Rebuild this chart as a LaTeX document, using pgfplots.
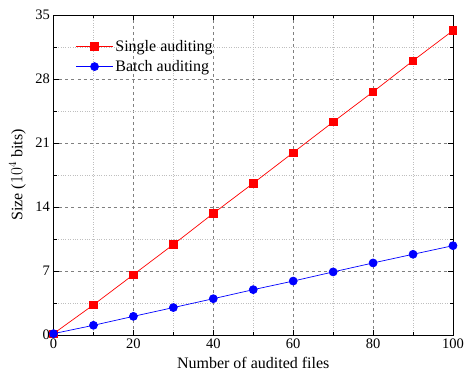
\documentclass[border=0pt]{standalone}
\usepackage{pgfplots}
\pgfplotsset{compat=1.18}
\usepackage{fontspec}
\setmainfont{Liberation Serif}
\begin{document}
\begin{tikzpicture}
\begin{axis}[
  scale only axis,
  width=399.5pt, height=320pt,
  xmin=0, xmax=100, ymin=0, ymax=35,
  xtick={0,20,...,100}, ytick={0,7,...,35},
  minor x tick num=1, minor y tick num=1,
  tick align=inside,
  major tick length=5pt, minor tick length=3pt,
  axis line style={line width=1pt},
  tick style={black, line width=0.8pt},
  grid=both,
  major grid style={gray, dashed, line width=0.5pt},
  minor grid style={gray!50, dotted, line width=0.6pt},
  /pgf/number format/assume math mode=true,
  ticklabel style={font=\fontsize{14.5}{17}\selectfont},
  label style={font=\fontsize{16}{19}\selectfont},
  xlabel={Number of audited files},
  ylabel={Size ($10^4$ bits)},
  xlabel style={at={(axis description cs:0.5,0)}, anchor=center, yshift=-28pt},
  ylabel style={at={(axis description cs:0,0.5)}, anchor=center, yshift=36pt},
  legend style={draw=none, fill=none, at={(axis description cs:0,1)}, anchor=north west,
    xshift=19pt, yshift=-21pt,
    font=\fontsize{16}{19}\selectfont, row sep=3.5pt},
  legend image code/.code={\draw[#1] (0pt,0pt) -- (37pt,0pt); \draw[#1, only marks] plot coordinates {(18.5pt,0pt)};},
  legend cell align=left,
]
\addplot[red, line width=0.7pt, mark=square*, mark size=3.7pt, mark options={fill=red, draw=red}]
coordinates {(0,0.15) (10,3.3) (20,6.6) (30,9.9) (40,13.3) (50,16.6) (60,19.95) (70,23.3) (80,26.6) (90,30.0) (100,33.3)};
\addlegendentry{Single auditing}
\addplot[blue, line width=0.7pt, mark=*, mark size=4pt, mark options={fill=blue, draw=blue}]
coordinates {(0,0.15) (10,1.06) (20,2.04) (30,3.0) (40,3.97) (50,4.96) (60,5.9) (70,6.9) (80,7.88) (90,8.83) (100,9.77)};
\addlegendentry{Batch auditing}
\end{axis}
\pgfresetboundingbox
\path[use as bounding box] ([shift={(-53.5pt,-40pt)}]current axis.south west) rectangle ([shift={(13pt,15pt)}]current axis.north east);
\end{tikzpicture}
\end{document}
